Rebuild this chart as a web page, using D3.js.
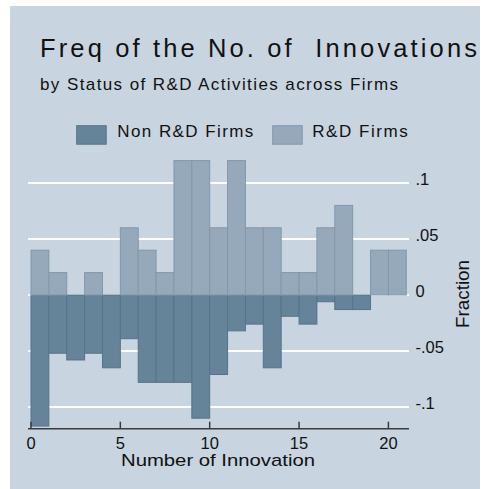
<!DOCTYPE html>
<html>
<head>
<meta charset="utf-8">
<script src="https://cdn.jsdelivr.net/npm/d3@7"></script>
<style>
html,body{margin:0;padding:0;background:#ffffff;}
svg text{font-family:"Liberation Sans",Arial,Helvetica,sans-serif;fill:#111;white-space:pre;}
</style>
</head>
<body>
<svg id="chart" width="485" height="489"></svg>
<script>
// ---- data ----
const bins = [0,1,2,3,4,5,6,7,8,9,10,11,12,13,14,15,16,17,18,19,20];
const rdFirms = [0.04,0.02,0,0.02,0,0.06,0.04,0.02,0.12,0.12,0.06,0.12,0.06,0.06,0.02,0.02,0.06,0.08,0,0.04,0.04];
const nonRdFirms = [0.117,0.052,0.058,0.052,0.065,0.039,0.078,0.078,0.078,0.110,0.071,0.032,0.026,0.065,0.019,0.026,0.006,0.013,0.013,0,0];
const xTicks = [0,5,10,15,20];
const yTicks = [0.1,0.05,0,-0.05,-0.1];
const yTickLabels = [".1",".05","0","-.05","-.1"];
const seriesNames = ["Non R&D Firms","R&D Firms"];

const colNon = "#668499", colNonStroke = "#557489";
const colRd = "#96a9ba", colRdStroke = "#8198ac";

const svg = d3.select("#chart");
svg.append("rect").attr("x",10).attr("y",6).attr("width",470).attr("height",483).attr("fill","#c8d4e0");

const x = d3.scaleLinear().domain([0,20]).range([31,388.4]);
const y = d3.scaleLinear().domain([-0.1,0.1]).range([407,183]);
const plotLeft = 28, plotRight = 409;

// gridlines
svg.append("g").selectAll("line").data(yTicks).join("line")
  .attr("x1",plotLeft).attr("x2",plotRight)
  .attr("y1",d=>y(d)).attr("y2",d=>y(d))
  .attr("stroke","#ffffff").attr("stroke-width",2);

// bars
const g = svg.append("g");
g.selectAll("rect.non").data(bins).join("rect").attr("class","non")
  .attr("x",d=>x(d)).attr("width",d=>x(d+1)-x(d))
  .attr("y",y(0)).attr("height",(d,i)=>y(-nonRdFirms[i])-y(0))
  .attr("fill",colNon).attr("stroke",colNonStroke).attr("stroke-width",1)
  .attr("display",(d,i)=>nonRdFirms[i]>0?null:"none");
g.selectAll("rect.rd").data(bins).join("rect").attr("class","rd")
  .attr("x",d=>x(d)).attr("width",d=>x(d+1)-x(d))
  .attr("y",(d,i)=>y(rdFirms[i])).attr("height",(d,i)=>y(0)-y(rdFirms[i]))
  .attr("fill",colRd).attr("stroke",colRdStroke).attr("stroke-width",1)
  .attr("display",(d,i)=>rdFirms[i]>0?null:"none");

// x axis
const axisY = 428.7;
svg.append("line").attr("x1",plotLeft).attr("x2",plotRight).attr("y1",axisY).attr("y2",axisY)
  .attr("stroke","#3a3a3a").attr("stroke-width",1.5);
svg.append("g").selectAll("line").data(xTicks).join("line")
  .attr("x1",d=>x(d)).attr("x2",d=>x(d)).attr("y1",axisY).attr("y2",axisY-7)
  .attr("stroke","#3a3a3a").attr("stroke-width",1.5);
svg.append("g").selectAll("text").data(xTicks).join("text")
  .attr("x",d=>x(d)).attr("y",449).attr("text-anchor","middle")
  .attr("font-size",16.5).text(d=>d);
svg.append("text").attr("x",218).attr("y",465.7).attr("text-anchor","middle")
  .attr("font-size",17).attr("textLength",194).attr("lengthAdjust","spacingAndGlyphs")
  .text("Number of Innovation");

// y axis (right)
svg.append("g").selectAll("text").data(yTicks).join("text")
  .attr("x",415.5).attr("y",d=>y(d)+2)
  .attr("font-size",16.5).text((d,i)=>yTickLabels[i]);
svg.append("text").attr("transform","translate(469.3,294) rotate(-90)")
  .attr("text-anchor","middle").attr("font-size",17.5)
  .attr("textLength",68).attr("lengthAdjust","spacingAndGlyphs").text("Fraction");

// titles
svg.append("text").attr("x",40).attr("y",56.7).attr("font-size",25.5)
  .attr("textLength",437).attr("lengthAdjust","spacing")
  .text("Freq of the No. of  Innovations");
svg.append("text").attr("x",40).attr("y",90).attr("font-size",17)
  .attr("textLength",358).attr("lengthAdjust","spacing")
  .text("by Status of R&D Activities across Firms");

// legend
const legend = [
  {name:seriesNames[0], fill:colNon, stroke:colNonStroke, sx:76.7, tx:117.3, tw:136},
  {name:seriesNames[1], fill:colRd, stroke:colRdStroke, sx:272.7, tx:312.3, tw:95.4}
];
legend.forEach(l=>{
  svg.append("rect").attr("x",l.sx).attr("y",125.7).attr("width",29.5).attr("height",18.5)
    .attr("fill",l.fill).attr("stroke",l.stroke).attr("stroke-width",1);
  svg.append("text").attr("x",l.tx).attr("y",137.3).attr("font-size",17)
    .attr("textLength",l.tw).attr("lengthAdjust","spacing").text(l.name);
});
</script>
</body>
</html>
